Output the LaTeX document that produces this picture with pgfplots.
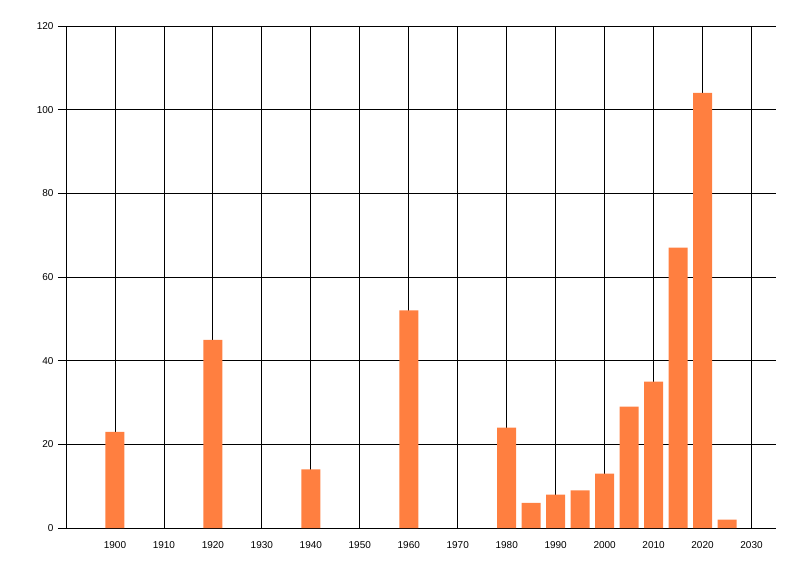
\documentclass[border=0pt]{standalone}
\usepackage{pgfplots}
\pgfplotsset{compat=1.18}
\usepackage{fontspec}
\setmainfont{Liberation Sans}
\definecolor{barc}{RGB}{255,127,64}
\begin{document}
\begin{tikzpicture}[x=1pt,y=1pt]
\path[use as bounding box] (-66,-48) rectangle (734,528);
\begin{axis}[
  at={(0,0)}, anchor=south west,
  scale only axis, width=710pt, height=502pt,
  xmin=1890, xmax=2035, ymin=0, ymax=120,
  axis lines*=left,
  axis line style={black, line width=0.8pt},
  xtick={1900,1910,...,2030},
  ytick={0,20,...,120},
  xticklabel style={/pgf/number format/1000 sep={}, font=\fontsize{10}{12}\selectfont},
  yticklabel style={font=\fontsize{10}{12}\selectfont},
  /pgf/number format/assume math mode=true,
  xtick style={draw=none},
  ytick style={black, line width=0.8pt},
  tick align=outside,
  major tick length=8pt,
  xmajorgrids, ymajorgrids,
  grid style={black, line width=0.8pt},
  x axis line style={-}, y axis line style={-},
  clip=false,
  xticklabel shift=2pt,
  yticklabel shift=1pt,
]
\addplot[ybar, bar width=19pt, fill=barc, draw=none] coordinates {
(1900,23) (1920,45) (1940,14) (1960,52) (1980,24) (1985,6) (1990,8) (1995,9)
(2000,13) (2005,29) (2010,35) (2015,67) (2020,104) (2025,2)
};
\end{axis}
\end{tikzpicture}
\end{document}
